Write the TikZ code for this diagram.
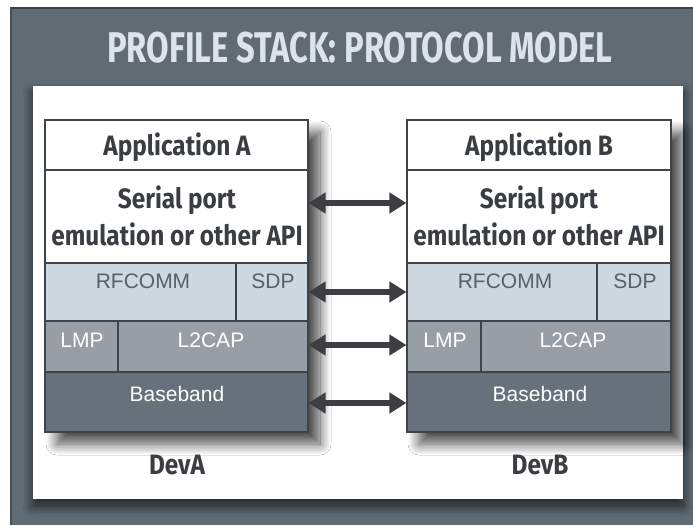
\documentclass[tikz,border=0pt]{standalone}
\usepackage{fontspec}
\setmainfont{Liberation Sans}
\newfontfamily\condfont{Fira Sans}[FakeStretch=0.87]
\newfontfamily\titlefont{Fira Sans}[FakeStretch=0.76]
\usetikzlibrary{arrows.meta,shadows.blur,fit}
\definecolor{frame}{HTML}{606B74}
\definecolor{titletxt}{HTML}{DCE3EA}
\definecolor{ink}{HTML}{3A3D41}
\definecolor{rfc}{HTML}{CDD8E1}
\definecolor{rfctxt}{HTML}{56616B}
\definecolor{lmpc}{HTML}{979EA5}
\definecolor{basec}{HTML}{66717B}
\definecolor{edgec}{HTML}{3F4448}
\definecolor{arrowc}{HTML}{3C3E41}
\tikzset{
  cell/.style={inner sep=0pt, draw=edgec, line width=1.1pt},
  apptxt/.style={anchor=base, font=\condfont\bfseries\fontsize{28}{30}\selectfont, text=ink, inner sep=0pt},
  devtxt/.style={anchor=base, font=\condfont\bfseries\fontsize{28}{30}\selectfont, text=ink, inner sep=0pt},
  laytxt/.style={anchor=base, font=\fontsize{21}{23}\selectfont, inner sep=0pt},
  arr/.style={arrowc, line width=5.5pt, {Triangle[length=17pt,width=20pt]}-{Triangle[length=17pt,width=20pt]}},
  stackshadow/.style={fill=white, blur shadow={shadow xshift=12pt, shadow yshift=-12pt, shadow blur radius=11pt, shadow blur steps=16, shadow opacity=70}}
}
\begin{document}
\begin{tikzpicture}[x=1pt,y=-1pt]
\useasboundingbox (0,0) rectangle (693,525);
\fill[white] (0,0) rectangle (693,525);
\fill[frame] (10,7) rectangle (693,525);
\draw[line width=2pt, frame!60!black] (10,8) -- (693,8);
\draw[line width=1.5pt, frame!75!black] (11,8) -- (11,525);
\node[anchor=base, font=\titlefont\bfseries\fontsize{43}{46}\selectfont, text=titletxt, inner sep=0pt] (title) at (360,62) {PROFILE STACK: PROTOCOL MODEL};
% white panel
\path[fill=white, blur shadow={shadow xshift=0pt, shadow yshift=-7pt, shadow blur radius=10pt, shadow blur steps=12, shadow opacity=70}] (33,86) rectangle (683,499);
% stack shadows
\path[stackshadow] (45,120) rectangle (308,432);
\path[stackshadow] (407,120) rectangle (671,432);
% Stack A
\node[cell, fill=white, fit={(45,120) (308,170)}] (appA) {};
\node[cell, fill=white, fit={(45,170) (308,263)}] (serA) {};
\node[cell, fill=rfc, fit={(45,263) (236,321)}] (rfcA) {};
\node[cell, fill=rfc, fit={(236,263) (308,321)}] (sdpA) {};
\node[cell, fill=lmpc, fit={(45,321) (118,372)}] (lmpA) {};
\node[cell, fill=lmpc, fit={(118,321) (308,372)}] (l2cA) {};
\node[cell, fill=basec, fit={(45,372) (308,432)}] (bbA) {};
% Stack B
\node[cell, fill=white, fit={(407,120) (671,170)}] (appB) {};
\node[cell, fill=white, fit={(407,170) (671,263)}] (serB) {};
\node[cell, fill=rfc, fit={(407,263) (597,321)}] (rfcB) {};
\node[cell, fill=rfc, fit={(597,263) (671,321)}] (sdpB) {};
\node[cell, fill=lmpc, fit={(407,321) (481,372)}] (lmpB) {};
\node[cell, fill=lmpc, fit={(481,321) (671,372)}] (l2cB) {};
\node[cell, fill=basec, fit={(407,372) (671,432)}] (bbB) {};
% texts A
\node[apptxt] (appAt) at (177,155) {Application A};
\node[apptxt] (serA1) at (177,208) {Serial port};
\node[apptxt] (serA2) at (177,245) {emulation or other API};
\node[laytxt, text=rfctxt] (rfcAt) at (143,288) {RFCOMM};
\node[laytxt, text=rfctxt] (sdpAt) at (273,288) {SDP};
\node[laytxt, text=white] (lmpAt) at (82,347) {LMP};
\node[laytxt, text=white] (l2cAt) at (211,347) {L2CAP};
\node[laytxt, text=white] (bbAt) at (177,401) {Baseband};
\node[devtxt] (devA) at (177,474) {DevA};
% texts B
\node[apptxt] (appBt) at (539,155) {Application B};
\node[apptxt] (serB1) at (539,208) {Serial port};
\node[apptxt] (serB2) at (539,245) {emulation or other API};
\node[laytxt, text=rfctxt] (rfcBt) at (505,288) {RFCOMM};
\node[laytxt, text=rfctxt] (sdpBt) at (635,288) {SDP};
\node[laytxt, text=white] (lmpBt) at (445,347) {LMP};
\node[laytxt, text=white] (l2cBt) at (573,347) {L2CAP};
\node[laytxt, text=white] (bbBt) at (540,401) {Baseband};
\node[devtxt] (devB) at (540,474) {DevB};
% arrows
\draw[arr] (serA.east |- 0,203) -- (serB.west |- 0,203);
\draw[arr] (sdpA.east |- 0,292) -- (rfcB.west |- 0,292);
\draw[arr] (l2cA.east |- 0,345) -- (lmpB.west |- 0,345);
\draw[arr] (bbA.east |- 0,403) -- (bbB.west |- 0,403);
\end{tikzpicture}
\end{document}
